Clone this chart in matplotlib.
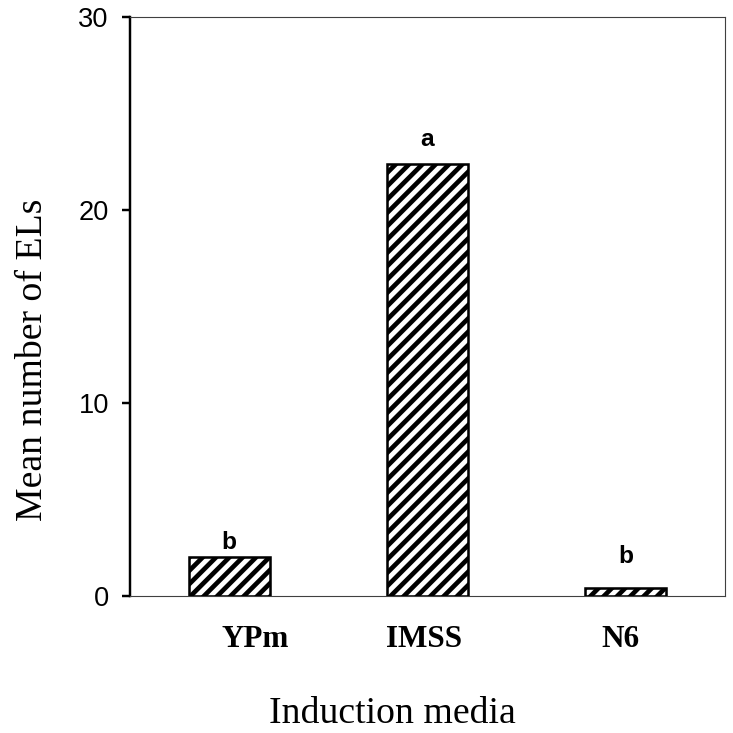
import matplotlib
matplotlib.use("Agg")
import matplotlib.pyplot as plt
from matplotlib.transforms import ScaledTranslation

# data
media = ["YPm", "IMSS", "N6"]
mean_els = [2.0, 22.4, 0.4]
letters = ["b", "a", "b"]
letter_y = [2.45, 23.3, 1.7]

# layout
DPI = 80
label_shift_px = [26, -3, -5]   # tick labels in the original are a bit off-centre

plt.rcParams["hatch.linewidth"] = 4.2
fig = plt.figure(figsize=(733 / DPI, 733 / DPI), dpi=DPI)
ax = fig.add_axes([130 / 733, 1 - 596 / 733, 595 / 733, 579 / 733])

x = range(len(media))
ax.bar(x, mean_els, width=0.41, color="white", edgecolor="black",
       hatch="//", linewidth=2.3, zorder=3)

for xi, lt, ly in zip(x, letters, letter_y):
    ax.text(xi, ly, lt, ha="center", va="baseline", fontsize=22,
            fontweight="bold", family="Liberation Sans")

ax.set_xlim(-0.5, 2.5)
ax.set_ylim(0, 30)
ax.set_yticks([0, 10, 20, 30])
ax.tick_params(axis="y", length=7, width=2.2, pad=12, labelsize=24.5)
for t in ax.get_yticklabels():
    t.set_family("Liberation Sans")

ax.set_xticks(list(x))
ax.set_xticklabels(media, fontsize=28, fontweight="bold", family="Liberation Serif")
ax.tick_params(axis="x", length=0, pad=26)
for t, dx in zip(ax.get_xticklabels(), label_shift_px):
    t.set_transform(t.get_transform() + ScaledTranslation(dx / DPI, 0, fig.dpi_scale_trans))

ax.spines["left"].set_linewidth(2.2)
ax.spines["left"].set_color("black")
for s in ["top", "right", "bottom"]:
    ax.spines[s].set_linewidth(1.0)
    ax.spines[s].set_color("#404040")

fig.text(42 / 733, 1 - 360 / 733, "Mean number of ELs", rotation=90,
         ha="center", va="baseline", rotation_mode="anchor",
         fontsize=34, family="Liberation Serif")
fig.text(392 / 733, 1 - 723 / 733, "Induction media", ha="center",
         va="baseline", fontsize=34, family="Liberation Serif")

fig.savefig("out.png", dpi=DPI)
